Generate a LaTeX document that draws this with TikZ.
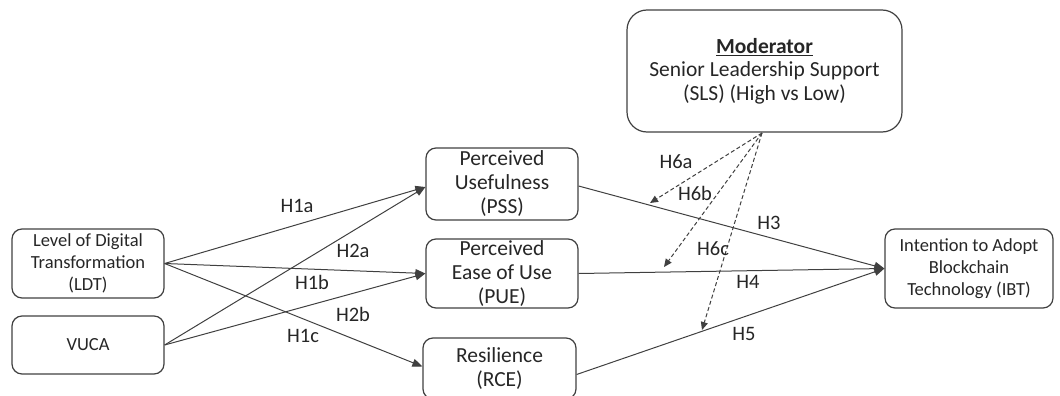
\documentclass[tikz,border=0pt]{standalone}
\usepackage{fontspec}
\setmainfont{Carlito}
\usetikzlibrary{arrows.meta}
\definecolor{ln}{HTML}{404040}
\definecolor{tx}{HTML}{262626}
\begin{document}
\begin{tikzpicture}[x=1pt,y=-1pt,
  box/.style={draw=ln,line width=1.2pt,rounded corners=10pt,inner sep=0pt,align=center,text=tx},
  big/.style={font=\fontsize{21.5}{24}\selectfont},
  small/.style={font=\fontsize{18.5}{22}\selectfont},
  conn/.style={draw=ln,line width=1pt,-{Triangle[length=10pt,width=8pt]}},
  modarrow/.style={draw=ln,line width=1pt,dash pattern=on 4pt off 2.5pt,-{Triangle[length=8pt,width=7pt]}},
  lab/.style={font=\fontsize{20.5}{24}\selectfont,text=tx,inner sep=0pt},
]
\useasboundingbox (0,0) rectangle (1060,396);

% boxes
\node[box,small,minimum width=152pt,minimum height=69pt] (ldt) at (88,263.5)
  {Level of Digital\\Transformation\\(LDT)};
\node[box,small,minimum width=152pt,minimum height=58pt] (vuca) at (88,345) {VUCA};
\node[box,big,minimum width=152pt,minimum height=72pt] (pss) at (502,184)
  {Perceived\\Usefulness\\(PSS)};
\node[box,big,minimum width=152pt,minimum height=69pt] (pue) at (502,273.5)
  {Perceived\\Ease of Use\\(PUE)};
\node[box,big,minimum width=153pt,minimum height=61pt] (rce) at (499.5,368.5)
  {Resilience\\(RCE)};
\node[box,small,minimum width=168pt,minimum height=79pt] (ibt) at (969,268.5)
  {Intention to Adopt\\Blockchain\\Technology (IBT)};
\node[box,big,font=\fontsize{21.5}{23.5}\selectfont,rounded corners=20pt,minimum width=275pt,minimum height=122pt] (sls) at (764.5,71)
  {\textbf{\underline{Moderator}}\\Senior Leadership Support\\(SLS) (High vs Low)};

% structural paths
\draw[conn] (ldt.east) -- ([yshift=-3pt]pss.west);
\draw[conn] (ldt.east) -- (pue.west);
\draw[conn] (ldt.east) -- ([yshift=2pt]rce.west);
\draw[conn] (vuca.east) -- ([yshift=-3pt]pss.west);
\draw[conn] (vuca.east) -- (pue.west);
\draw[conn] ([yshift=-2pt]pss.east) -- (ibt.west);
\draw[conn] (pue.east) -- (ibt.west);
\draw[conn] ([yshift=-6pt]rce.east) -- (ibt.west);

% moderation
\coordinate (src) at (762,133);
\coordinate (t6a) at (650,203);
\coordinate (t6b) at (664,267);
\coordinate (t6c) at (702,330);
\draw[modarrow] (src) -- (t6a);
\draw[modarrow] (src) -- (t6b);
\draw[modarrow] (src) -- (t6c);

% labels
\node[lab] (l1a) at (297,206) {H1a};
\node[lab] (l2a) at (353,251) {H2a};
\node[lab] (l1b) at (312,282) {H1b};
\node[lab] (l2b) at (353,314) {H2b};
\node[lab] (l1c) at (303,336) {H1c};
\node[lab] (l3) at (769,223) {H3};
\node[lab] (l4) at (748,282) {H4};
\node[lab] (l5) at (744,334) {H5};
\node[lab] (l6a) at (676,162) {H6a};
\node[lab] (l6b) at (695,193) {H6b};
\node[lab] (l6c) at (713,249) {H6c};
\end{tikzpicture}
\end{document}
